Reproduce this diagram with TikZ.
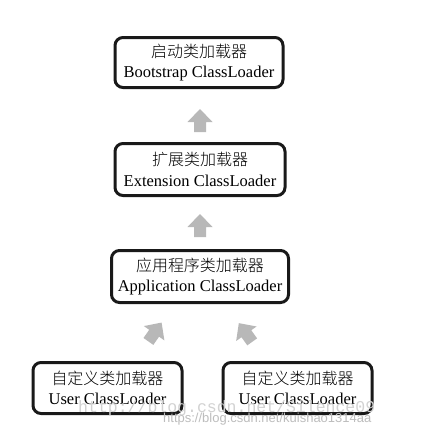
\documentclass[tikz,border=0pt]{standalone}
\usepackage{fontspec}
\setmainfont{Liberation Serif}
\IfFontExistsTF{Noto Sans CJK SC Light}
  {\newfontfamily\cjk{Noto Sans CJK SC Light}}
  {\newfontfamily\cjk{Noto Sans CJK SC}}
\newfontfamily\wmmono{Liberation Mono}
\newfontfamily\wmsans{Liberation Sans}
\definecolor{arrowgray}{HTML}{B8B8B8}
\definecolor{wmgray}{HTML}{D2D2D2}
\tikzset{
  loader/.style={draw=black!90, line width=3pt, rounded corners=8pt, align=center,
    inner sep=0pt, font=\fontsize{16.5}{20.5}\selectfont},
  blockarrow/.style={fill=arrowgray, draw=none},
}
\newcommand{\zh}[1]{{\cjk\fontsize{16}{20.5}\selectfont #1}}
\newcommand{\upblock}{(-11.5,-6)--(-1.5,-6)--(-1.5,-12.5)--(11.5,0)--(-1.5,12.5)--(-1.5,6)--(-11.5,6)--cycle}
\begin{document}
\begin{tikzpicture}[x=1pt,y=-1pt]
\useasboundingbox[fill=white] (0,0) rectangle (427,437);
\node[loader, minimum width=168pt, minimum height=50pt] (boot) at (199,62.5)
  {\zh{启动类加载器}\\Bootstrap ClassLoader};
\node[loader, minimum width=170pt, minimum height=52pt] (ext) at (200,169.5)
  {\zh{扩展类加载器}\\Extension ClassLoader};
\node[loader, minimum width=177pt, minimum height=52pt] (app) at (200,276.5)
  {\zh{应用程序类加载器}\\Application ClassLoader};
\node[loader, minimum width=149pt, minimum height=51pt] (user1) at (107.5,388)
  {\zh{自定义类加载器}\\User ClassLoader};
\node[loader, minimum width=149pt, minimum height=51pt] (user2) at (297.5,388)
  {\zh{自定义类加载器}\\User ClassLoader};
% block arrows
\begin{scope}[shift={(200,120.5)}, x=1pt, y=1pt, rotate=90]
  \fill[blockarrow] \upblock;
\end{scope}
\begin{scope}[shift={(200,225.5)}, x=1pt, y=1pt, rotate=90]
  \fill[blockarrow] \upblock;
\end{scope}
\begin{scope}[shift={(155,332)}, x=1pt, y=1pt, rotate=55]
  \fill[blockarrow] \upblock;
\end{scope}
\begin{scope}[shift={(245.5,332.5)}, x=1pt, y=1pt, rotate=125.5]
  \fill[blockarrow] \upblock;
\end{scope}
% watermarks
\node[text=wmgray, anchor=west, inner sep=0pt, font=\wmmono\fontsize{16.5}{18}\selectfont] (wm1) at (78,408) {http://blog.csdn.net/Silence09};
\node[text=wmgray!90!black, anchor=west, inner sep=0pt, font=\wmsans\fontsize{13}{15}\selectfont] (wm2) at (163,419) {https://blog.csdn.net/kuishao1314aa};
\end{tikzpicture}
\end{document}
